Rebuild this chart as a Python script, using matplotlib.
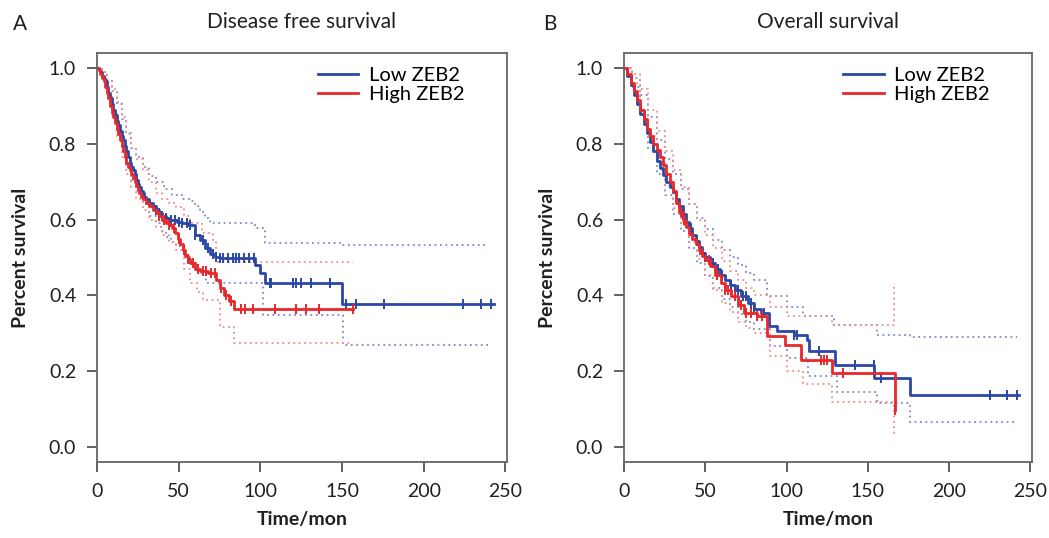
import numpy as np
import matplotlib
matplotlib.use('Agg')
from matplotlib import pyplot as plt

plt.rcParams['font.family'] = ['Lato', 'DejaVu Sans']

BLUE = '#2b48a6'
RED = '#e8282b'
BLUE_CI = '#7f86d6'
RED_CI = '#f28a8a'

# ---- Disease free survival (panel A) ----
dfs_low_t = [0, 1, 2, 3, 4, 5, 6, 7, 8, 9, 10, 11, 12, 13, 14, 15, 16, 17, 18, 19, 20, 21, 22,
             23, 24, 25, 26, 27, 28, 29, 30, 32, 34, 36, 38, 40, 42, 44, 46, 49, 52, 56,
             60, 63, 66, 69, 72, 75, 97, 100, 103, 150, 243]
dfs_low_s = [1.0, 0.995, 0.99, 0.98, 0.975, 0.965, 0.95, 0.935, 0.92, 0.905, 0.89, 0.875, 0.86,
             0.85, 0.835, 0.82, 0.81, 0.795, 0.78, 0.765, 0.75, 0.74, 0.73, 0.72, 0.705, 0.695,
             0.685, 0.675, 0.67, 0.66, 0.655, 0.645, 0.635, 0.625, 0.617, 0.61, 0.605, 0.60,
             0.598, 0.595, 0.59, 0.585, 0.56, 0.545, 0.525, 0.51, 0.50, 0.498,
             0.48, 0.46, 0.432, 0.377, 0.377]
dfs_low_cens_t = [36, 38, 40, 42, 45, 48, 50, 52, 55, 57, 60, 65, 68, 71, 73, 75, 77, 80, 83, 85,
                  87, 90, 93, 96, 105.7, 106.7, 120, 122, 125, 131, 142.4, 152.7, 158.8, 176, 224,
                  235, 241.4]
dfs_low_up_t = [0, 3, 6, 9, 12, 15, 18, 21, 24, 28, 32, 36, 41, 46, 52, 57, 60, 63, 66, 69, 97,
                102.6, 150.6, 239]
dfs_low_up_s = [1.0, 0.99, 0.965, 0.94, 0.905, 0.865, 0.83, 0.79, 0.765, 0.74, 0.715, 0.70, 0.68,
                0.665, 0.655, 0.65, 0.635, 0.62, 0.605, 0.59, 0.577, 0.537, 0.533, 0.533]
dfs_low_lo_t = [0, 3, 6, 9, 12, 15, 18, 21, 24, 28, 32, 36, 39, 42, 45, 48.6, 53, 57, 62, 67,
                97.5, 101.6, 149.6, 150.6, 240.4]
dfs_low_lo_s = [1.0, 0.975, 0.93, 0.88, 0.83, 0.78, 0.74, 0.705, 0.675, 0.64, 0.61, 0.59, 0.57,
                0.555, 0.54, 0.53, 0.505, 0.485, 0.46, 0.432, 0.432, 0.348, 0.348, 0.269, 0.269]

dfs_high_t = [0, 1, 2, 3, 4, 5, 6, 7, 8, 9, 10, 11, 12, 13, 14, 15, 16, 17, 18, 19, 20, 21, 22,
              23, 24, 25, 26, 27, 28, 30, 32, 34, 36, 38, 40, 42, 44, 46, 48, 49.5, 51, 52.5, 54,
              55.5, 57, 60, 63, 68, 73, 75, 78, 81, 84, 157]
dfs_high_s = [1.0, 0.995, 0.985, 0.975, 0.965, 0.95, 0.935, 0.92, 0.9, 0.885, 0.87, 0.855, 0.84,
              0.825, 0.81, 0.795, 0.78, 0.765, 0.75, 0.74, 0.73, 0.72, 0.71, 0.70, 0.69, 0.68,
              0.67, 0.66, 0.655, 0.645, 0.635, 0.625, 0.617, 0.61, 0.60, 0.59, 0.585, 0.578,
              0.565, 0.55, 0.535, 0.52, 0.505, 0.495, 0.485, 0.47, 0.465, 0.458, 0.44,
              0.42, 0.40, 0.385, 0.363, 0.363]
dfs_high_cens_t = [38, 41, 44, 47, 50, 53, 56, 59, 62, 65, 67, 70, 72, 76, 79, 82, 88.4, 90.4,
                   95.5, 108.8, 122, 128, 136, 156.7]
dfs_high_up_t = [0, 3, 6, 9, 12, 15, 18, 21, 24, 28, 32, 36, 40, 44, 48.6, 53, 57, 64, 71, 73,
                 156.7]
dfs_high_up_s = [1.0, 0.99, 0.97, 0.945, 0.91, 0.87, 0.825, 0.79, 0.76, 0.73, 0.70, 0.67, 0.655,
                 0.645, 0.634, 0.61, 0.59, 0.565, 0.546, 0.489, 0.489]
dfs_high_lo_t = [0, 3, 6, 9, 12, 15, 18, 21, 24, 28, 32, 36, 40, 44, 48.6, 53, 57, 61, 65, 74,
                 75, 84, 156.7]
dfs_high_lo_s = [1.0, 0.975, 0.93, 0.875, 0.82, 0.765, 0.72, 0.685, 0.655, 0.625, 0.60, 0.58,
                 0.56, 0.54, 0.52, 0.47, 0.432, 0.41, 0.388, 0.383, 0.317, 0.273, 0.273]

# ---- Overall survival (panel B) ----
os_low_t = [0, 2, 4, 6, 8, 10, 12, 14, 16, 18, 20, 22, 24, 26, 28, 30, 32, 34, 36, 38, 40, 42,
            44, 46, 48, 50, 53, 56, 59, 62, 65, 68, 72, 76, 80, 84, 89, 94, 104.5, 112.7, 113.7,
            130, 154, 176, 243]
os_low_s = [1.0, 0.98, 0.955, 0.93, 0.905, 0.88, 0.853, 0.83, 0.805, 0.78, 0.755, 0.735, 0.718,
            0.70, 0.687, 0.673, 0.655, 0.635, 0.615, 0.595, 0.577, 0.56, 0.543, 0.527, 0.512,
            0.50, 0.486, 0.47, 0.453, 0.44, 0.427, 0.415, 0.398, 0.38, 0.365, 0.353, 0.318,
            0.305, 0.296, 0.283, 0.252, 0.216, 0.181, 0.137, 0.137]
os_low_cens_t = [36, 41, 45, 50, 55, 58, 60, 66, 68, 70, 73, 75, 78, 80, 86, 104.5, 106.6, 120,
                 142.4, 153.7, 158, 225, 235.7, 241.8]
os_low_up_t = [0, 5, 10, 15, 20, 25, 30, 35, 40, 45, 50, 55, 60, 65, 70, 75, 80, 88, 100, 110,
               129, 155.7, 176, 242]
os_low_up_s = [1.0, 0.975, 0.93, 0.87, 0.81, 0.76, 0.72, 0.68, 0.64, 0.605, 0.575, 0.545, 0.52,
               0.50, 0.48, 0.46, 0.44, 0.398, 0.37, 0.345, 0.322, 0.296, 0.291, 0.291]
os_low_lo_t = [0, 5, 10, 15, 20, 25, 30, 35, 40, 45, 50, 55, 60, 65, 70, 75, 80, 90, 100, 113,
               131, 155.7, 176, 242]
os_low_lo_s = [1.0, 0.95, 0.875, 0.79, 0.72, 0.665, 0.615, 0.57, 0.525, 0.485, 0.45, 0.42, 0.39,
               0.37, 0.35, 0.33, 0.31, 0.265, 0.235, 0.186, 0.146, 0.115, 0.066, 0.066]

os_high_t = [0, 2, 4, 6, 8, 10, 12, 14, 16, 18, 20, 22, 24, 26, 28, 30, 32, 34, 36, 38, 40, 42,
             44, 46, 48, 50, 53, 56, 59.4, 62, 65.6, 70, 74, 82, 88, 99, 108.6, 128, 166.4]
os_high_s = [1.0, 0.985, 0.96, 0.94, 0.915, 0.89, 0.865, 0.84, 0.82, 0.80, 0.785, 0.765, 0.745,
             0.72, 0.70, 0.675, 0.645, 0.62, 0.60, 0.58, 0.563, 0.548, 0.535, 0.52, 0.505, 0.493,
             0.477, 0.455, 0.433, 0.415, 0.398, 0.375, 0.353, 0.345, 0.292, 0.269, 0.230,
             0.196, 0.097]
os_high_cens_t = [35, 37, 47, 52, 57, 62, 64, 68, 72, 75, 78, 82, 85, 121, 123, 125, 135, 166.4]
os_high_up_t = [0, 5, 10, 15, 20, 25, 30, 35, 40, 45, 50, 55, 60, 65, 70, 75, 80, 90, 100, 108.6,
                128, 166]
os_high_up_s = [1.0, 0.985, 0.945, 0.89, 0.835, 0.78, 0.73, 0.685, 0.64, 0.60, 0.56, 0.525, 0.49,
                0.465, 0.44, 0.42, 0.40, 0.37, 0.345, 0.345, 0.322, 0.433]
os_high_lo_t = [0, 5, 10, 15, 20, 25, 30, 35, 40, 45, 50, 55, 60, 65, 70, 75, 80, 90, 100, 110,
                128, 166]
os_high_lo_s = [1.0, 0.96, 0.89, 0.82, 0.75, 0.69, 0.63, 0.585, 0.54, 0.495, 0.455, 0.415, 0.38,
                0.355, 0.33, 0.315, 0.30, 0.24, 0.20, 0.165, 0.119, 0.026]

xticks = [0, 50, 100, 150, 200, 250]
yticks = [0.0, 0.2, 0.4, 0.6, 0.8, 1.0]


def surv_at(times, surv, t):
    # value of the step curve just after time t
    idx = np.searchsorted(times, t, side='right') - 1
    return np.asarray(surv)[idx]


def km_panel(ax, low, high, title, letter, letter_x):
    groups = [(low, BLUE, BLUE_CI, 'Low ZEB2'), (high, RED, RED_CI, 'High ZEB2')]
    # confidence bands first (dotted), curves on top
    for (t, s, ct, ut, us, lt, ls), col, cicol, lab in groups:
        ax.step(ut, us, where='post', color=cicol, lw=1.3, ls=(0, (1, 2.0)))
        ax.step(lt, ls, where='post', color=cicol, lw=1.3, ls=(0, (1, 2.0)))
    for (t, s, ct, ut, us, lt, ls), col, cicol, lab in groups:
        ax.step(t, s, where='post', color=col, lw=2.0, label=lab)
        ax.plot(ct, surv_at(t, s, ct), ls='none', marker='|', ms=7.5, mew=1.4, color=col)

    ax.set_xlim(0, 251)
    ax.set_ylim(-0.04, 1.04)
    ax.set_xticks(xticks)
    ax.set_yticks(yticks)
    ax.set_yticklabels(['%.1f' % v for v in yticks])
    ax.tick_params(axis='both', labelsize=14, length=7, width=1.3, color='#555555',
                   labelcolor='#231f20', pad=8)
    for sp in ax.spines.values():
        sp.set_color('#666666')
        sp.set_linewidth(1.3)
    ax.set_xlabel('Time/mon', fontsize=14, fontweight='bold', color='#231f20', labelpad=8)
    ax.set_ylabel('Percent survival', fontsize=14, fontweight='bold', color='#231f20', labelpad=14)
    ax.set_title(title, fontsize=15, color='#231f20', pad=18)
    ax.legend(loc='upper right', frameon=False, fontsize=14.5, handlelength=2.0,
              handletextpad=0.5, labelspacing=0.1, borderaxespad=0.3,
              bbox_to_anchor=(0.93, 1.0))
    ax.figure.text(letter_x, 0.955, letter, fontsize=15, color='#231f20', va='center')


fig = plt.figure(figsize=(10.49, 5.38), dpi=100)
ax1 = fig.add_axes([0.0925, 0.1413, 0.3908, 0.7602])
ax2 = fig.add_axes([0.5949, 0.1413, 0.3889, 0.7602])

km_panel(ax1,
         (dfs_low_t, dfs_low_s, dfs_low_cens_t, dfs_low_up_t, dfs_low_up_s, dfs_low_lo_t, dfs_low_lo_s),
         (dfs_high_t, dfs_high_s, dfs_high_cens_t, dfs_high_up_t, dfs_high_up_s, dfs_high_lo_t, dfs_high_lo_s),
         'Disease free survival', 'A', 0.012)
km_panel(ax2,
         (os_low_t, os_low_s, os_low_cens_t, os_low_up_t, os_low_up_s, os_low_lo_t, os_low_lo_s),
         (os_high_t, os_high_s, os_high_cens_t, os_high_up_t, os_high_up_s, os_high_lo_t, os_high_lo_s),
         'Overall survival', 'B', 0.518)

fig.savefig('out.png', dpi=100)
